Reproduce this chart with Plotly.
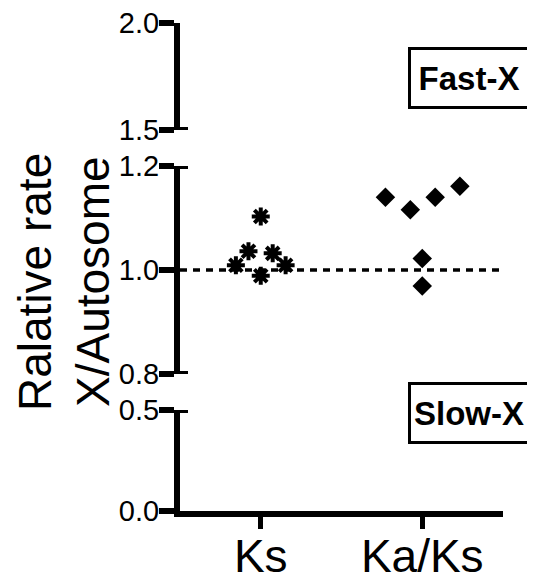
import plotly.graph_objects as go

# ---- data ----
categories = ["Ks", "Ka/Ks"]
ks_values = [1.009, 1.036, 1.103, 0.989, 1.032, 1.009]
ks_offsets = [-0.154, -0.076, 0.0, 0.0, 0.074, 0.154]
kaks_values = [1.140, 1.116, 1.140, 1.161, 1.022, 0.969]
kaks_offsets = [-0.228, -0.074, 0.080, 0.233, 0.0, 0.0]
reference_value = 1.0
title_lines = ["Ralative rate", "X/Autosome"]
region_labels = ["Fast-X", "Slow-X"]

bottom_range = [0.0, 0.5]
middle_range = [0.8, 1.2]
top_range = [1.5, 2.0]
bottom_ticks = [0.0, 0.5]
middle_ticks = [0.8, 1.0, 1.2]
top_ticks = [1.5, 2.0]

# the page body has an 8px margin: lay the figure out in window pixels
OFF = 8
W, H = 535 - OFF, 586 - OFF
PLOT_L, PLOT_R, PLOT_T, PLOT_B = 180, 503, 23, 511  # window pixels
ML = PLOT_L - OFF
MT = PLOT_T - OFF
MR = W - (PLOT_R - OFF)
MB = H - (PLOT_B - OFF)
PH = H - MT - MB
PW = W - ML - MR


def py(p):
    return (PLOT_B - p) / PH


def px(p):
    return (p - PLOT_L) / PW


FONT = "Liberation Sans, Arial, sans-serif"

fig = go.Figure()

fig.add_trace(go.Scatter(
    x=[0 + o for o in ks_offsets], y=ks_values, xaxis="x2", yaxis="y2",
    mode="markers", name=categories[0],
    marker=dict(symbol="asterisk", size=15, color="black",
                line=dict(color="black", width=4)),
))
fig.add_trace(go.Scatter(
    x=[1 + o for o in kaks_offsets], y=kaks_values, xaxis="x2", yaxis="y2",
    mode="markers", name=categories[1],
    marker=dict(symbol="diamond", size=15, color="black",
                line=dict(width=0)),
))

xcommon = dict(range=[-0.5, 1.5], fixedrange=True, automargin=False)
ycommon = dict(showline=True, linewidth=6, linecolor="black", ticks="outside",
               ticklen=15, tickwidth=6, tickcolor="black", showgrid=False,
               zeroline=False, tickformat=".1f", automargin=False,
               ticklabeloverflow="allow", ticklabelstandoff=-6,
               tickfont=dict(family=FONT, size=29, color="black"))

fig.update_layout(
    width=W, height=H,
    margin=dict(l=ML, r=MR, t=MT, b=MB, autoexpand=False, pad=0),
    paper_bgcolor="white", plot_bgcolor="white",
    showlegend=False,
    xaxis=dict(**xcommon, anchor="y", tickvals=[0, 1], ticktext=categories,
               showline=True, linewidth=6, linecolor="black", ticks="outside",
               ticklen=12, tickwidth=5, tickcolor="black", showgrid=False,
               zeroline=False, ticklabeloverflow="allow", ticklabelstandoff=-12,
               tickfont=dict(family=FONT, size=46, color="black")),
    xaxis2=dict(**xcommon, anchor="y2", matches="x", visible=False),
    xaxis3=dict(**xcommon, anchor="y3", matches="x", visible=False),
    yaxis=dict(**ycommon, domain=[0, py(410)], range=bottom_range,
               tickvals=bottom_ticks, anchor="x"),
    yaxis2=dict(**ycommon, domain=[py(374), py(166)], range=middle_range,
                tickvals=middle_ticks, anchor="x2"),
    yaxis3=dict(**ycommon, domain=[py(130), 1.0], range=top_range,
                tickvals=top_ticks, anchor="x3"),
)

# reference dashed line
fig.add_shape(type="line", xref="x2 domain", yref="y2", x0=0, x1=1,
              y0=reference_value, y1=reference_value,
              line=dict(color="black", width=3.5, dash="7px,6px"))

# axis break caps
for yref, val in [("y3", top_range[0]), ("y2", middle_range[1]),
                  ("y2", middle_range[0]), ("y", bottom_range[1])]:
    fig.add_shape(type="line", xref="paper", yref=yref, x0=-0.01, x1=8 / PW,
                  y0=val, y1=val, line=dict(color="black", width=6))

# y-axis title, two rotated lines (tight text boxes so they stay inside the page)
for line, cx in zip(title_lines, [35, 93]):
    fig.add_annotation(text=line, xref="paper", yref="paper",
                       x=px(cx), y=py(282), xanchor="center", yanchor="middle",
                       textangle=-90, showarrow=False, height=40,
                       valign="middle",
                       font=dict(family=FONT, size=46, color="black"))

# region labels
for label, cy in zip(region_labels, [78, 413]):
    fig.add_annotation(text="<b>%s</b>" % label, xref="paper", yref="paper",
                       x=px(469), y=py(cy), xanchor="center",
                       yanchor="middle", showarrow=False,
                       width=114, height=54, borderpad=1,
                       bordercolor="black", borderwidth=3, bgcolor="white",
                       font=dict(family=FONT, size=33, color="black"))

fig.write_html("out.html")
